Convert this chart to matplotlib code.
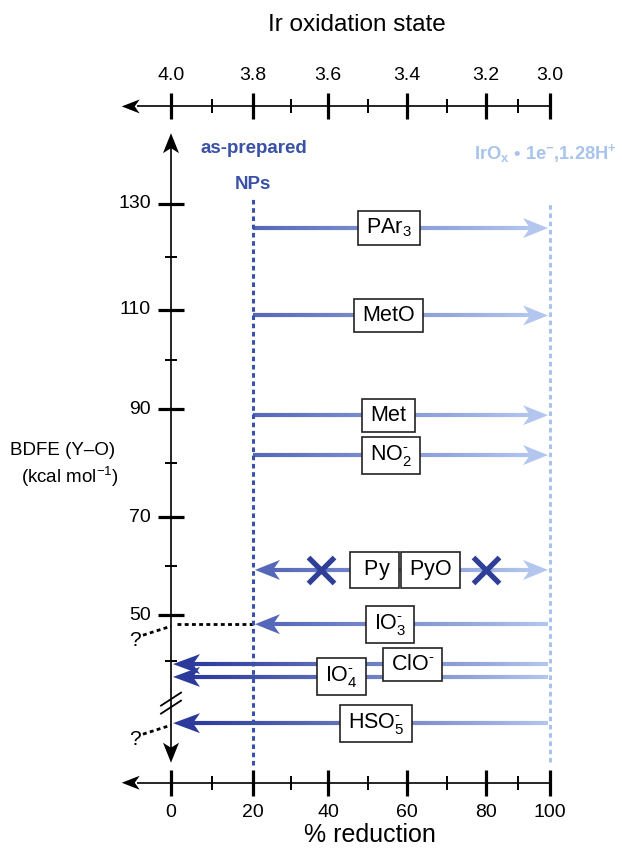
import numpy as np
import matplotlib
matplotlib.use('Agg')
import matplotlib.pyplot as plt
from matplotlib.collections import LineCollection
from matplotlib.patches import Polygon, Rectangle
from matplotlib.colors import to_rgb

plt.rcParams['font.family'] = ['Liberation Sans', 'DejaVu Sans']
plt.rcParams['mathtext.fontset'] = 'custom'
plt.rcParams['mathtext.rm'] = 'Liberation Sans'
plt.rcParams['mathtext.it'] = 'Liberation Sans:italic'
plt.rcParams['mathtext.bf'] = 'Liberation Sans:bold'

# axis ticks
pct_ticks = [0, 20, 40, 60, 80, 100]
pct_minor = [10, 30, 50, 70, 90]
ox_labels = ['4.0', '3.8', '3.6', '3.4', '3.2', '3.0']
bdfe_ticks = [50, 70, 90, 110, 130]
bdfe_minor = [40, 60, 80, 100, 120]

# reagents: label, BDFE row (kcal/mol, plot position), arrow start %, arrow end %, label position %
names = [r'$\mathregular{PAr_3}$', r'$\mathregular{MetO}$', r'$\mathregular{Met}$',
         '$\\mathregular{NO_2^{\u2010}}$', '$\\mathregular{IO_3^{\u2010}}$',
         '$\\mathregular{ClO^{\u2010}}$', '$\\mathregular{IO_4^{\u2010}}$',
         '$\\mathregular{HSO_5^{\u2010}}$']
rows = [125.4, 108.9, 88.9, 81.5, 48.0, 39.4, 36.9, 27.9]
x_from = [20, 20, 20, 20, 100, 100, 100, 100]
x_to = [100, 100, 100, 100, 20, 0, 0, 0]
label_x = [55.4, 55.3, 55.3, 56.0, 55.7, 61.4, 43.5, 52.2]

# Py / PyO: no reaction either way
py_row = 59.2
py_span = [20, 100]
py_names = [r'$\mathregular{\ Py\ }$', r'$\mathregular{PyO}$']
py_label_x = [51.8, 66.0]
cross_x = [38.1, 80.0]

# unknown BDFEs ("?") tied to IO3- and HSO5-
q_rows = [48.0, 27.9]

colors = {0: '#2b3a9b', 20: '#5467b9', 100: '#b3c6ee'}
DARK_DOT = '#3a51a8'
LIGHT_DOT = '#a9c4ec'

# the hand-drawn axes are not evenly spaced; piecewise scales follow the drawn ticks
x_knots = [-45.1, 0, 20, 40, 60, 80, 100, 119.0]
x_draw = [0, 171, 253, 328, 407, 486, 550, 622]
y_knots = [3.6, 40, 50, 70, 90, 110, 130, 169.6]
y_draw = [-848, -661, -615, -517, -409.3, -310, -203.6, 0]

fig = plt.figure(figsize=(6.22, 8.48), dpi=100)
ax = fig.add_axes([0, 0, 1, 1])
ax.set_xscale('function', functions=(lambda v: np.interp(v, x_knots, x_draw),
                                     lambda p: np.interp(p, x_draw, x_knots)))
ax.set_yscale('function', functions=(lambda v: np.interp(v, y_knots, y_draw),
                                     lambda p: np.interp(p, y_draw, y_knots)))
ax.set_xlim(x_knots[0], x_knots[-1])
ax.set_ylim(y_knots[0], y_knots[-1])
ax.axis('off')


def px(x, y):
    return ax.transData.transform((x, y))


def data(pts):
    return ax.transData.inverted().transform(np.atleast_2d(pts))


def head(xt, yt, dx, dy, color, length=25, width=20, notch=7, z=4):
    qx, qy = -dy, dx
    tx, ty = px(xt, yt)
    pts = [(0, 0),
           (-dx * length + qx * width / 2, -dy * length + qy * width / 2),
           (-dx * (length - notch), -dy * (length - notch)),
           (-dx * length - qx * width / 2, -dy * length - qy * width / 2)]
    ax.add_patch(Polygon(data([(tx + a, ty + b) for a, b in pts]),
                         closed=True, fc=color, ec='none', zorder=z))


def shift_x(x, y, dpx):
    tx, ty = px(x, y)
    return data((tx + dpx, ty))[0][0]


def shift_y(x, y, dpx):
    tx, ty = px(x, y)
    return data((tx, ty + dpx))[0][1]


def grad_line(x0, x1, y, c0, c1, lw=3, n=300):
    xs = np.linspace(x0, x1, n + 1)
    segs = [[(xs[i], y), (xs[i + 1], y)] for i in range(n)]
    t = np.linspace(0, 1, n)[:, None]
    cols = (1 - t) * np.array(to_rgb(c0)) + t * np.array(to_rgb(c1))
    ax.add_collection(LineCollection(segs, colors=cols, linewidths=lw,
                                     capstyle='butt', zorder=3))


# black frame axes
top_y, bot_y = 148.9, 16.3
for yy in (top_y, bot_y):
    ax.plot([100, shift_x(-13, yy, 15)], [yy, yy], color='k', lw=1.2, solid_capstyle='butt')
    head(-13, yy, -1, 0, 'k', length=18, width=14, notch=5)
    for t in pct_ticks:
        ax.plot([t, t], [shift_y(t, yy, -13), shift_y(t, yy, 13)], color='k', lw=2.3,
                solid_capstyle='butt')
    for t in pct_minor:
        ax.plot([t, t], [shift_y(t, yy, -7), shift_y(t, yy, 7)], color='k', lw=1.4,
                solid_capstyle='butt')
for t, lab in zip(pct_ticks, ox_labels):
    ax.text(t, 155.0, lab, ha='center', va='center', fontsize=14)
for t in pct_ticks:
    ax.text(t, 10.6, str(t), ha='center', va='center', fontsize=14)

# y axis
ax.plot([0, 0], [shift_y(0, 20.2, 15), shift_y(0, 143.7, -15)], color='k', lw=1.2,
        solid_capstyle='butt')
head(0, 143.7, 0, 1, 'k', length=20, width=16, notch=5)
head(0, 20.2, 0, -1, 'k', length=20, width=16, notch=5)
for t in bdfe_ticks:
    ax.plot([shift_x(0, t, -13), shift_x(0, t, 13)], [t, t], color='k', lw=2.3,
            solid_capstyle='butt')
    ax.text(shift_x(0, t, -20), t, str(t), ha='right', va='center', fontsize=14)
for t in bdfe_minor:
    ax.plot([shift_x(0, t, -6), shift_x(0, t, 6)], [t, t], color='k', lw=1.4,
            solid_capstyle='butt')
bx, by = px(0, 31.8)
for off in (-4, 4):
    seg = data([(bx - 10, by + off - 6.5), (bx + 10, by + off + 6.5)])
    ax.plot(seg[:, 0], seg[:, 1], color='k', lw=1.3)

ax.text(47.3, 164.7, 'Ir oxidation state', ha='center', va='center', fontsize=17.5)
ax.text(50.6, 6.1, '% reduction', ha='center', va='center', fontsize=18)
ax.text(-28.5, 82.4, 'BDFE (Y\u2013O)', ha='center', va='center', fontsize=13.5)
ax.text(-26.6, 77.5, r'(kcal mol$^{\mathregular{-1}}$)', ha='center', va='center', fontsize=13.5)

# reference states
ax.plot([20, 20], [19.8, 131.1], color=DARK_DOT, lw=2.2, ls=(0, (1.5, 1.2)), zorder=5)
ax.plot([100, 100], [20.4, 130.4], color=LIGHT_DOT, lw=2.2, ls=(0, (1.5, 1.2)), zorder=5)
ax.text(20.3, 140.7, 'as-prepared', ha='center', va='center', fontsize=13.5,
        fontweight='bold', color=DARK_DOT)
ax.text(20.0, 133.8, 'NPs', ha='center', va='center', fontsize=13.5,
        fontweight='bold', color=DARK_DOT)
ax.text(76.9, 139.8, 'IrO$_\\mathbf{x}$ \u2022 1e$^\\mathbf{-}$,1.28H$^\\mathbf{+}$',
        ha='left', va='center', fontsize=13.2, fontweight='bold', color=LIGHT_DOT)

# reagent arrows
boxes = []
for name, y, xa, xb, lx in zip(names, rows, x_from, x_to, label_x):
    d = 1 if xb > xa else -1
    hl = 25 if xb != 0 else 27
    tip = shift_x(xb, y, -d * 2)
    start = xa if xa == 20 else shift_x(xa, y, -2)
    grad_line(start, shift_x(tip, y, -d * (hl - 8)), y, colors[xa], colors[xb])
    head(tip, y, d, 0, colors[xb], length=hl, width=20, notch=7)
    boxes.append(ax.text(lx, y, name, ha='center', va='center', fontsize=15.5, zorder=7))

# Py / PyO
left_tip = shift_x(py_span[0], py_row, 2)
right_tip = shift_x(py_span[1], py_row, -2)
grad_line(shift_x(left_tip, py_row, 17), shift_x(right_tip, py_row, -17), py_row,
          colors[20], colors[100])
head(left_tip, py_row, -1, 0, colors[20])
head(right_tip, py_row, 1, 0, colors[100])
for nm, lx in zip(py_names, py_label_x):
    boxes.append(ax.text(lx, py_row, nm, ha='center', va='center', fontsize=15.5, zorder=7))
ax.plot(cross_x, [py_row] * len(cross_x), ls='none', marker='x', ms=19, mew=3.8,
        color='#2f3e97', zorder=6)

# dashed guides for unknown BDFEs
ax.plot([shift_x(0, q_rows[0], 6), 20], [q_rows[0], q_rows[0]], color='k', lw=2,
        ls=(0, (1.4, 1.2)), zorder=4)
for qy in q_rows:
    ax.plot([-7.4, 0], [shift_y(0, qy, -11), shift_y(0, qy, -2)], color='k', lw=2,
            ls=(0, (1.4, 1.2)), zorder=4)
    ax.text(-9.5, shift_y(0, qy, -16), '?', ha='center', va='center', fontsize=15)

# label boxes
fig.canvas.draw()
r = fig.canvas.get_renderer()
for t in boxes:
    bb = t.get_window_extent(r)
    (x0, y0), (x1, y1) = data([(bb.x0 - 8, bb.y0 - 6), (bb.x1 + 8, bb.y1 + 6)])
    ax.add_patch(Rectangle((x0, y0), x1 - x0, y1 - y0, fc='white', ec='#222222',
                           lw=1.2, zorder=6))

fig.savefig('out.png', dpi=100)
